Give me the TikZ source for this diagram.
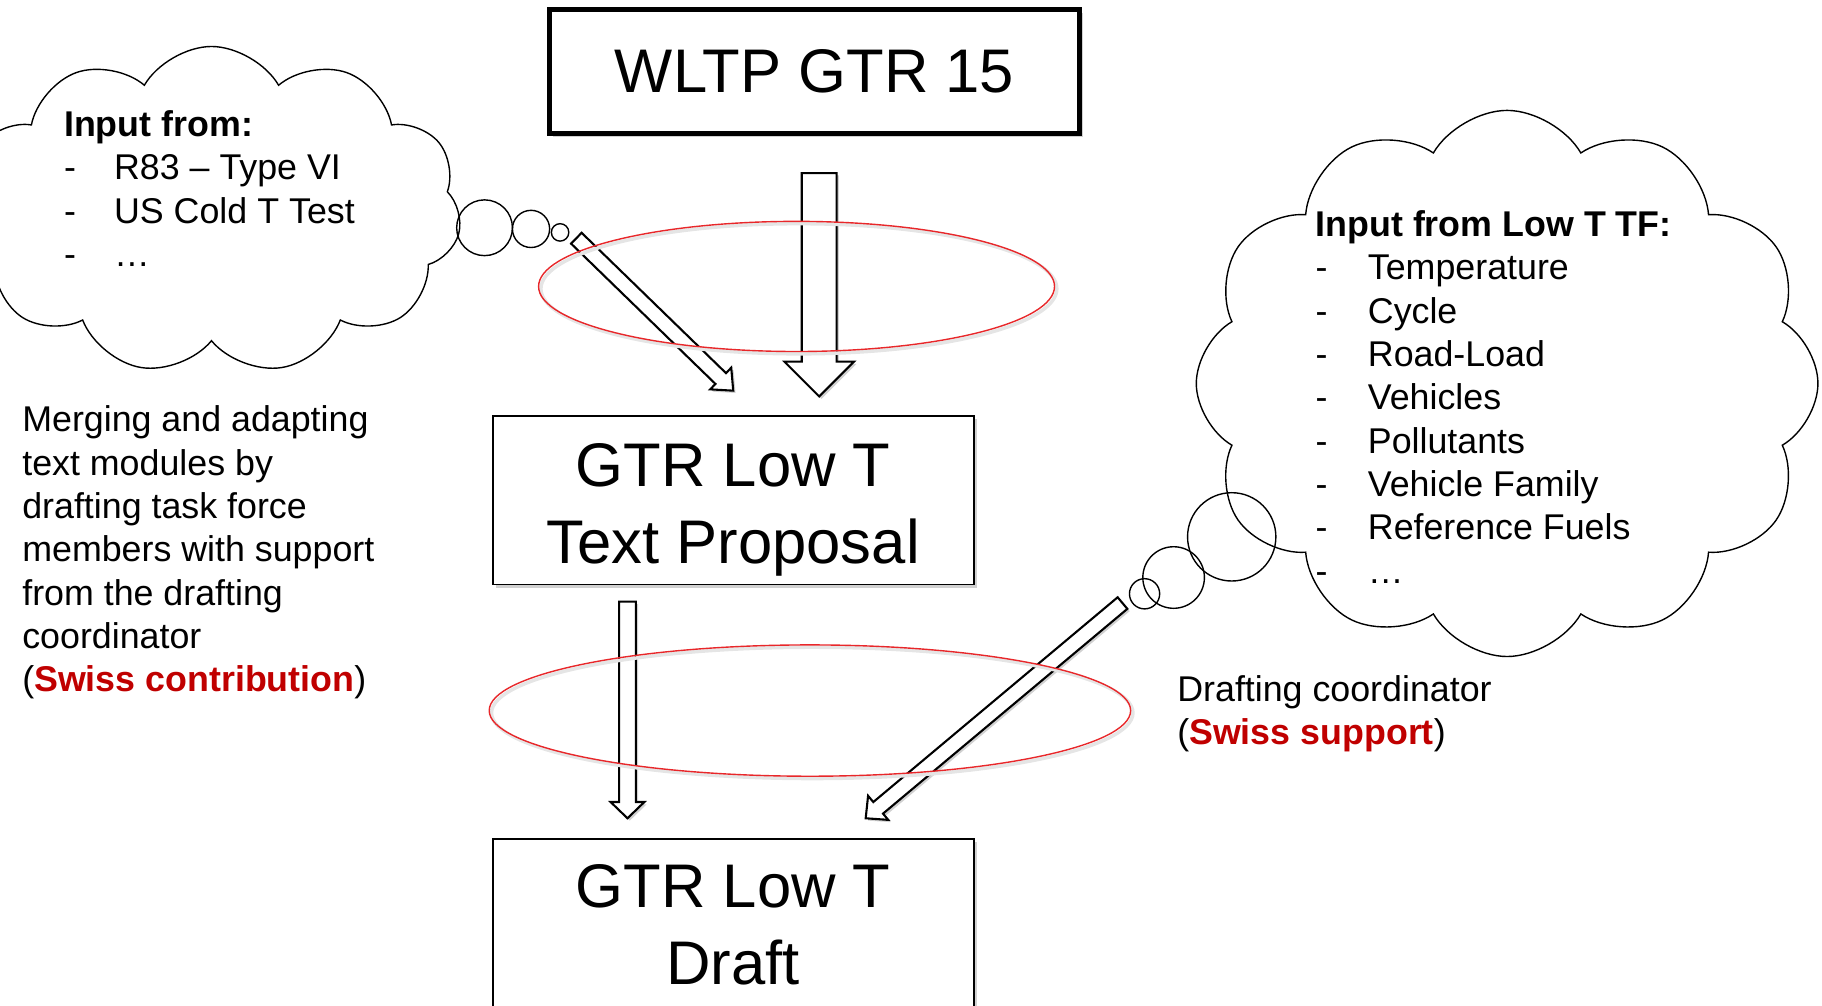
\documentclass[tikz,border=0pt]{standalone}
\usepackage{fontspec}
\setmainfont{Liberation Sans}
\usetikzlibrary{shapes.symbols,shapes.geometric,shadows,calc}
\definecolor{swissred}{HTML}{C00000}
\definecolor{ellred}{HTML}{E8272A}
\newcommand\blockarr[6]{%
  \path ($(#3)!#6!(#2)$) coordinate (hb);
  \draw[#1] ($(#2)!#4!90:(#3)$) -- ($(hb)!#4!90:(#3)$) -- ($(hb)!#5!90:(#3)$) -- (#3)
    -- ($(hb)!#5!-90:(#3)$) -- ($(hb)!#4!-90:(#3)$) -- ($(#2)!#4!-90:(#3)$) -- cycle;}
\tikzset{
  shad/.style={drop shadow={shadow xshift=3pt, shadow yshift=-3pt, opacity=0.3, fill=black!60}},
  boxw/.style={draw, line width=4pt, fill=white, minimum width=456pt, minimum height=107pt,
    font=\fontsize{53}{66}\selectfont, shad},
  gbox/.style={draw, line width=1.6pt, fill=white, minimum width=414pt, align=center,
    font=\fontsize{53}{66}\selectfont, shad},
  barrow/.style={draw, line width=1.8pt, fill=white, line join=miter,
    drop shadow={shadow xshift=2pt, shadow yshift=-2pt, opacity=0.3, fill=black!60}},
  ring/.style={ellipse, draw=ellred, line width=1.2pt, inner sep=0pt},
  ringshadow/.style={ellipse, draw=black!10, line width=3pt, inner sep=0pt},
  thought/.style={cloud, draw, line width=1.2pt, cloud puffs=11, cloud puff arc=120,
    cloud ignores aspect, inner sep=0pt},
  bubble/.style={circle, draw, line width=1.2pt, inner sep=0pt},
  body/.style={font=\fontsize{30.8}{37.3}\selectfont, align=left, inner sep=0pt},
}
\begin{document}
\begin{tikzpicture}[x=1pt, y=-1pt]
\useasboundingbox (0,0) rectangle (1568,865);

% clouds and thought bubbles
\node[thought, minimum width=430pt, minimum height=282pt] (cloudL) at (182,181) {};
\node[bubble, minimum size=48pt] (bL1) at (417,196) {};
\node[bubble, minimum size=32pt] (bL2) at (457,197) {};
\node[bubble, minimum size=15pt] (bL3) at (482,200) {};

\node[thought, cloud puffs=12, minimum width=535pt, minimum height=470pt] (cloudR) at (1297,330) {};
\node[bubble, minimum size=76pt] (bR1) at (1060,462) {};
\node[bubble, minimum size=53pt] (bR2) at (1010,497) {};
\node[bubble, minimum size=26pt] (bR3) at (985,511) {};

% boxes
\node[boxw] (wltp) at (701,61.5) {WLTP GTR 15};
\node[gbox, minimum height=145pt] (prop) at (631,430.5) {\rule{0pt}{54pt}GTR Low T\\Text Proposal};
\node[gbox, minimum height=148pt] (draft) at (631,796) {GTR Low T\\Draft};

% arrow end points
\coordinate (a1s) at ($(wltp.south)+(4,32)$);
\coordinate (a1e) at ($(prop.north)+(74,-16)$);
\coordinate (a2s) at ($(prop.south)+(-91,14)$);
\coordinate (a2e) at ($(draft.north)+(-91,-17)$);
\coordinate (d1s) at ($(bL3)+(14,5)$);
\coordinate (d1e) at ($(prop.north)+(0,-21)$);
\coordinate (d2s) at ($(bR3)+(-19,8)$);
\coordinate (d2e) at ($(draft.north)+(114,-17)$);

% block arrows
\blockarr{barrow}{a1s}{a1e}{15pt}{30pt}{30pt}
\blockarr{barrow}{a2s}{a2e}{7.25pt}{14.5pt}{14pt}
\blockarr{barrow}{d1s}{d1e}{6.5pt}{13pt}{15pt}
\blockarr{barrow}{d2s}{d2e}{6.5pt}{13.5pt}{14pt}

% red rings
\node[ringshadow, minimum width=444pt, minimum height=112pt] (ell1s) at (687.5,248.5) {};
\node[ringshadow, minimum width=552pt, minimum height=113pt] (ell2s) at (699,613.5) {};
\node[ring, minimum width=444pt, minimum height=112pt] (ell1) at (685.5,246.5) {};
\node[ring, minimum width=552pt, minimum height=113pt] (ell2) at (697,611.5) {};

% texts
\node[body, anchor=north west] (inL) at (55,95) {\textbf{Input from:}\\
  \makebox[43pt][l]{-}R83 – Type VI\\
  \makebox[43pt][l]{-}US Cold T Test\\
  \makebox[43pt][l]{-}…};
\node[body, anchor=north west] (inR) at (1132,181) {\textbf{Input from Low T TF:}\\
  \makebox[45pt][l]{-}Temperature\\
  \makebox[45pt][l]{-}Cycle\\
  \makebox[45pt][l]{-}Road-Load\\
  \makebox[45pt][l]{-}Vehicles\\
  \makebox[45pt][l]{-}Pollutants\\
  \makebox[45pt][l]{-}Vehicle Family\\
  \makebox[45pt][l]{-}Reference Fuels\\
  \makebox[45pt][l]{-}…};
\node[body, anchor=north west] (merge) at (19,349) {Merging and adapting\\
  text modules by\\
  drafting task force\\
  members with support\\
  from the drafting\\
  coordinator\\
  (\textcolor{swissred}{\textbf{Swiss contribution}})};
\node[body, anchor=north west] (coord) at (1013,581) {Drafting coordinator\\
  (\textcolor{swissred}{\textbf{Swiss support}})};
\end{tikzpicture}
\end{document}
